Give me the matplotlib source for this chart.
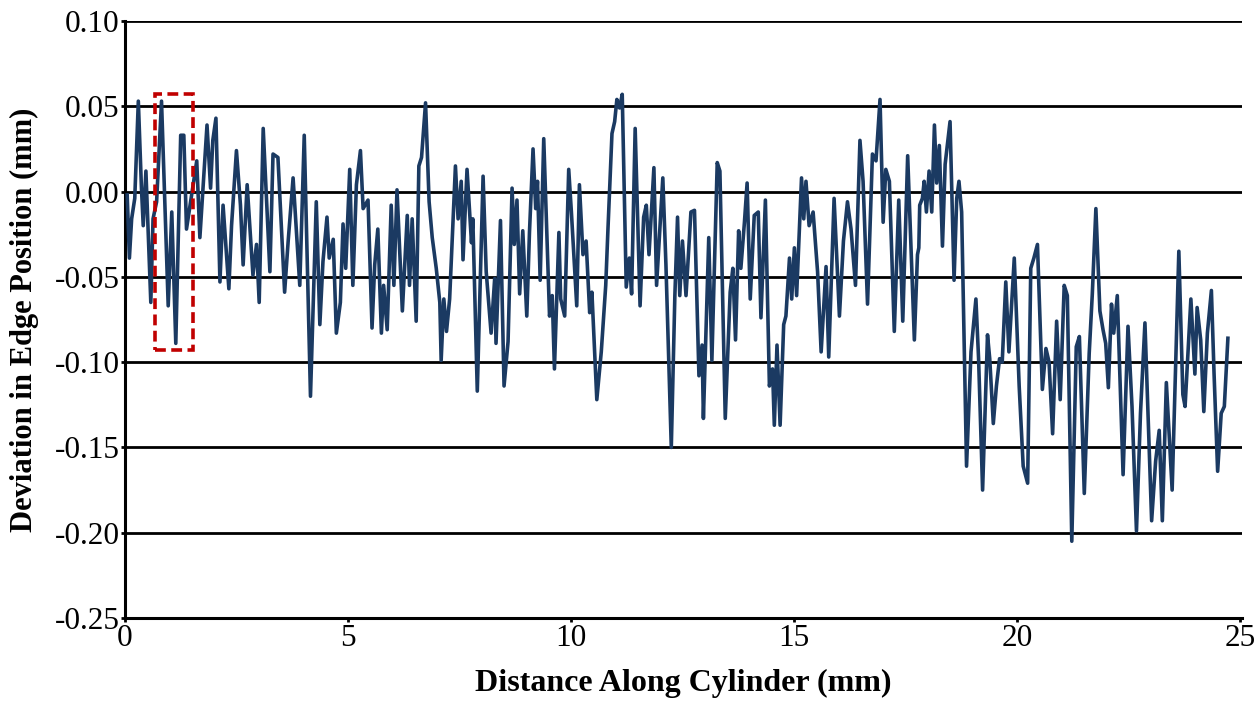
import matplotlib.pyplot as plt
from matplotlib.patches import Rectangle

# distance along cylinder (mm) and deviation of the edge (mm)
dist_mm = [
    0.05, 0.10, 0.15, 0.22, 0.30, 0.37, 0.41, 0.47, 0.58, 0.63, 0.71, 0.82, 0.97, 1.05, 1.14, 1.25,
    1.32, 1.38, 1.61, 1.68, 1.84, 1.92, 1.97, 2.04, 2.13, 2.20, 2.33, 2.39, 2.50, 2.59, 2.65, 2.74,
    2.87, 2.95, 3.01, 3.10, 3.25, 3.32, 3.43, 3.58, 3.66, 3.77, 3.92, 4.02, 4.16, 4.29, 4.37, 4.44,
    4.53, 4.58, 4.67, 4.74, 4.83, 4.89, 4.95, 5.04, 5.11, 5.19, 5.28, 5.34, 5.45, 5.54, 5.60, 5.67,
    5.75, 5.80, 5.88, 5.97, 6.03, 6.10, 6.22, 6.33, 6.38, 6.44, 6.53, 6.59, 6.65, 6.74, 6.82, 6.89,
    6.98, 7.06, 7.09, 7.15, 7.21, 7.28, 7.41, 7.47, 7.54, 7.58, 7.67, 7.77, 7.80, 7.90, 8.03, 8.10,
    8.21, 8.29, 8.32, 8.42, 8.50, 8.59, 8.68, 8.73, 8.79, 8.85, 8.92, 9.01, 9.07, 9.15, 9.21, 9.25,
    9.31, 9.39, 9.52, 9.58, 9.63, 9.73, 9.77, 9.86, 9.95, 10.01, 10.13, 10.19, 10.27, 10.34, 10.42,
    10.47, 10.58, 10.68, 10.78, 10.83, 10.92, 10.98, 11.03, 11.09, 11.15, 11.24, 11.31, 11.36, 11.44,
    11.55, 11.63, 11.69, 11.75, 11.86, 11.92, 12.06, 12.13, 12.25, 12.33, 12.39, 12.44, 12.50, 12.58,
    12.69, 12.77, 12.87, 12.94, 12.97, 13.09, 13.16, 13.28, 13.34, 13.46, 13.57, 13.63, 13.69, 13.76,
    13.81, 13.89, 13.95, 14.02, 14.11, 14.20, 14.26, 14.36, 14.45, 14.52, 14.56, 14.62, 14.69, 14.77,
    14.82, 14.90, 14.95, 15.01, 15.06, 15.17, 15.22, 15.27, 15.34, 15.43, 15.53, 15.61, 15.72, 15.78,
    15.90, 16.02, 16.11, 16.20, 16.28, 16.38, 16.48, 16.55, 16.65, 16.76, 16.84, 16.93, 17.00, 17.06,
    17.14, 17.25, 17.35, 17.44, 17.55, 17.70, 17.77, 17.80, 17.82, 17.88, 17.92, 17.97, 18.03, 18.09,
    18.15, 18.20, 18.26, 18.33, 18.39, 18.50, 18.59, 18.65, 18.70, 18.76, 18.87, 18.97, 19.08, 19.14,
    19.23, 19.34, 19.39, 19.47, 19.54, 19.61, 19.67, 19.75, 19.82, 19.94, 20.05, 20.14, 20.24, 20.31,
    20.38, 20.46, 20.57, 20.65, 20.72, 20.80, 20.89, 20.97, 21.06, 21.13, 21.23, 21.33, 21.40, 21.51,
    21.62, 21.69, 21.77, 21.86, 21.93, 21.99, 22.05, 22.12, 22.17, 22.25, 22.38, 22.49, 22.58, 22.68,
    22.77, 22.87, 23.02, 23.11, 23.19, 23.26, 23.35, 23.48, 23.63, 23.72, 23.77, 23.90, 23.99, 24.04,
    24.12, 24.19, 24.27, 24.36, 24.42, 24.50, 24.58, 24.65, 24.73,
]
deviation_mm = [
    -0.002, -0.039, -0.016, -0.004, 0.053, 0.002, -0.020, 0.012, -0.065, -0.016, -0.006, 0.053,
    -0.067, -0.012, -0.089, 0.033, 0.033, -0.022, 0.018, -0.027, 0.039, 0.002, 0.030, 0.043,
    -0.053, -0.008, -0.057, -0.020, 0.024, -0.008, -0.043, 0.004, -0.049, -0.031, -0.065, 0.037,
    -0.047, 0.022, 0.020, -0.059, -0.029, 0.008, -0.055, 0.033, -0.120, -0.006, -0.078, -0.041,
    -0.015, -0.039, -0.028, -0.083, -0.065, -0.019, -0.045, 0.013, -0.055, 0.004, 0.024, -0.010,
    -0.005, -0.080, -0.043, -0.022, -0.083, -0.055, -0.081, -0.008, -0.055, 0.001, -0.070, -0.014,
    -0.055, -0.016, -0.076, 0.015, 0.020, 0.052, -0.006, -0.027, -0.045, -0.065, -0.099, -0.063,
    -0.082, -0.063, 0.015, -0.016, 0.006, -0.040, 0.013, -0.030, -0.016, -0.117, 0.009, -0.047,
    -0.083, -0.051, -0.089, -0.017, -0.114, -0.088, 0.002, -0.031, -0.005, -0.060, -0.023, -0.073,
    -0.024, 0.025, -0.010, 0.006, -0.052, 0.031, -0.073, -0.061, -0.104, -0.024, -0.063, -0.073,
    0.013, -0.012, -0.067, 0.004, -0.037, -0.029, -0.071, -0.059, -0.122, -0.094, -0.055, -0.022,
    0.034, 0.041, 0.054, 0.049, 0.057, -0.056, -0.039, -0.060, 0.037, -0.067, -0.015, -0.008,
    -0.037, 0.014, -0.055, 0.008, -0.043, -0.150, -0.061, -0.015, -0.061, -0.029, -0.061, -0.012,
    -0.011, -0.108, -0.090, -0.133, -0.027, -0.099, 0.017, 0.012, -0.133, -0.059, -0.045, -0.087,
    -0.023, -0.045, -0.018, 0.005, -0.063, -0.014, -0.012, -0.074, -0.005, -0.114, -0.104, -0.137,
    -0.090, -0.137, -0.078, -0.073, -0.039, -0.063, -0.033, -0.061, 0.008, -0.016, 0.006, -0.020,
    -0.012, -0.047, -0.094, -0.044, -0.097, -0.004, -0.073, -0.029, -0.006, -0.022, -0.055, 0.030,
    0.006, -0.066, 0.022, 0.018, 0.054, -0.018, 0.013, 0.006, -0.082, -0.005, -0.076, 0.021,
    -0.087, -0.037, -0.033, -0.008, -0.004, 0.006, -0.012, 0.012, -0.012, 0.039, 0.005, 0.027,
    -0.032, 0.016, 0.041, -0.052, -0.004, 0.006, -0.012, -0.161, -0.094, -0.063, -0.098, -0.175,
    -0.084, -0.098, -0.136, -0.114, -0.098, -0.100, -0.053, -0.094, -0.039, -0.114, -0.161, -0.171,
    -0.045, -0.039, -0.031, -0.116, -0.092, -0.100, -0.142, -0.076, -0.122, -0.055, -0.061, -0.205,
    -0.091, -0.085, -0.177, -0.095, -0.060, -0.010, -0.070, -0.081, -0.089, -0.115, -0.066, -0.083,
    -0.061, -0.166, -0.079, -0.126, -0.199, -0.130, -0.077, -0.193, -0.158, -0.140, -0.193, -0.112,
    -0.175, -0.035, -0.119, -0.126, -0.063, -0.107, -0.068, -0.087, -0.129, -0.083, -0.058, -0.107,
    -0.164, -0.130, -0.126, -0.086,
]

x_ticks = [0, 5, 10, 15, 20, 25]
y_ticks = [0.10, 0.05, 0.00, -0.05, -0.10, -0.15, -0.20, -0.25]
y_tick_labels = ["0.10", "0.05", "0.00", "-0.05", "-0.10", "-0.15", "-0.20", "-0.25"]

# highlighted region (mm)
box_x = (0.67, 1.52)
box_y = (-0.093, 0.057)

plt.rcParams['font.family'] = ['Liberation Serif', 'DejaVu Serif']

fig = plt.figure(figsize=(12.57, 7.04), dpi=100)
ax = fig.add_axes([0.0994, 0.1222, 0.8888, 0.848])

for yv in y_ticks[:-1]:
    ax.axhline(yv, color='black', lw=2.0, zorder=1)

ax.plot(dist_mm, deviation_mm, color='#1b3a62', lw=2.6, solid_joinstyle='round', zorder=3)

rect = Rectangle((box_x[0], box_y[0]), box_x[1] - box_x[0], box_y[1] - box_y[0],
                 fill=False, edgecolor='#c00000', lw=2.6, linestyle=(0, (3, 1.5)), zorder=4)
ax.add_patch(rect)

ax.set_xlim(0, 25.05)
ax.set_ylim(-0.25, 0.10)
ax.set_xticks(x_ticks)
ax.set_yticks(y_ticks)
ax.set_yticklabels(y_tick_labels)

for side in ['top', 'right']:
    ax.spines[side].set_visible(False)
for side in ['left', 'bottom']:
    ax.spines[side].set_linewidth(2.2)

ax.tick_params(axis='both', labelsize=22.5, length=3, width=2, direction='out', pad=1)

ax.set_xlabel('Distance Along Cylinder (mm)', fontsize=23, fontweight='bold', labelpad=12)
ax.set_ylabel('Deviation in Edge Position (mm)', fontsize=22, fontweight='bold')
ax.yaxis.set_label_coords(-0.077, 0.5)

fig.savefig('out.png', dpi=100)
